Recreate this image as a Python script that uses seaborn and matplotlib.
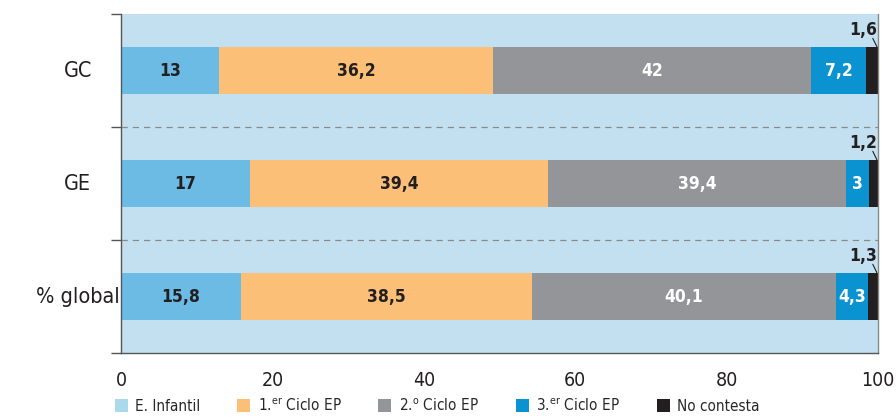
import numpy as np
import pandas as pd
import seaborn as sns
import matplotlib as mpl
import matplotlib.pyplot as plt
from matplotlib.patches import Patch

mpl.use('Agg')

categories = ['GC', 'GE', '% global']
series = ['E. Infantil', '1.er Ciclo EP', '2.o Ciclo EP', '3.er Ciclo EP', 'No contesta']
infantil = [13, 17, 15.8]
ciclo1 = [36.2, 39.4, 38.5]
ciclo2 = [42, 39.4, 40.1]
ciclo3 = [7.2, 3, 4.3]
no_contesta = [1.6, 1.2, 1.3]

legend_labels = ['E. Infantil', '1.$^{\\mathrm{er}}$ Ciclo EP', '2.$^{\\mathrm{o}}$ Ciclo EP',
                 '3.$^{\\mathrm{er}}$ Ciclo EP', 'No contesta']
bar_colors = ['#6cbbe4', '#fcbf78', '#939598', '#0b92d0', '#231f20']
legend_colors = ['#a9d9ea', '#fcbf78', '#939598', '#0b92d0', '#231f20']
text_colors = ['#231f20', '#231f20', 'white', 'white', None]

sns.set_style('white')
plt.rcParams['font.family'] = ['DejaVu Sans']
plt.rcParams['font.stretch'] = 'condensed'
plt.rcParams['mathtext.fontset'] = 'custom'
plt.rcParams['mathtext.rm'] = 'DejaVu Sans:stretch=condensed'

df = pd.DataFrame({'cat': categories, 'E. Infantil': infantil, '1.er Ciclo EP': ciclo1,
                   '2.o Ciclo EP': ciclo2, '3.er Ciclo EP': ciclo3, 'No contesta': no_contesta})
cum = df[series].cumsum(axis=1)

fig = plt.figure(figsize=(8.96, 4.19), dpi=100)
ax = fig.add_axes([0.135, 0.1575, 0.845, 0.809])
ax.set_facecolor('#c3e0f0')

# draw cumulative totals, longest first, so shorter ones sit on top
for s, col in reversed(list(zip(series, bar_colors))):
    sns.barplot(x=cum[s], y=df['cat'], orient='h', color=col, width=0.41,
                saturation=1, ax=ax, order=categories, linewidth=0)

for i in range(len(categories)):
    left = 0
    for j, s in enumerate(series):
        v = df[s][i]
        if text_colors[j] is not None:
            ax.text(left + v / 2, i, ('%g' % v).replace('.', ','), ha='center', va='center',
                    fontsize=12.5, fontweight='bold', color=text_colors[j])
        else:
            ax.text(98.0, i - 0.355, ('%g' % v).replace('.', ','), ha='center', va='center',
                    fontsize=12.5, fontweight='bold', color='#231f20')
            ax.plot([99.3, 99.85], [i - 0.285, i - 0.21], color='#231f20', lw=0.8)
        left += v

for y in [0.5, 1.5]:
    ax.axhline(y, color='#8a8a8a', lw=0.9, ls=(0, (5, 4)))

ax.set_xlim(0, 100)
ax.set_ylim(2.5, -0.5)
ax.set_xticks([0, 20, 40, 60, 80, 100])
ax.set_yticks([-0.5, 0.5, 1.5, 2.5])
ax.set_yticklabels([])
ax.set_xlabel('')
ax.set_ylabel('')
ax.tick_params(axis='x', length=7, width=1, color='#555555', labelsize=14, pad=6, labelcolor='#231f20')
ax.tick_params(axis='y', length=7, width=1, color='#555555', left=True)
for i, c in enumerate(categories):
    ax.text(-0.057, i, c, transform=ax.get_yaxis_transform(), ha='center', va='center',
            fontsize=15.5, color='#231f20')

for side in ['left', 'bottom']:
    ax.spines[side].set_color('#555555')
    ax.spines[side].set_linewidth(1)
ax.spines['right'].set_color('#888888')
ax.spines['right'].set_linewidth(1)
ax.spines['top'].set_visible(False)

handles = [Patch(facecolor=c, edgecolor='none') for c in legend_colors]
fig.legend(handles, legend_labels, loc='center', bbox_to_anchor=(0.488, 0.033), ncol=5,
           frameon=False, fontsize=11, handlelength=0.85, handleheight=0.85,
           handletextpad=0.5, columnspacing=2.4)

fig.savefig('out.png', dpi=100)
